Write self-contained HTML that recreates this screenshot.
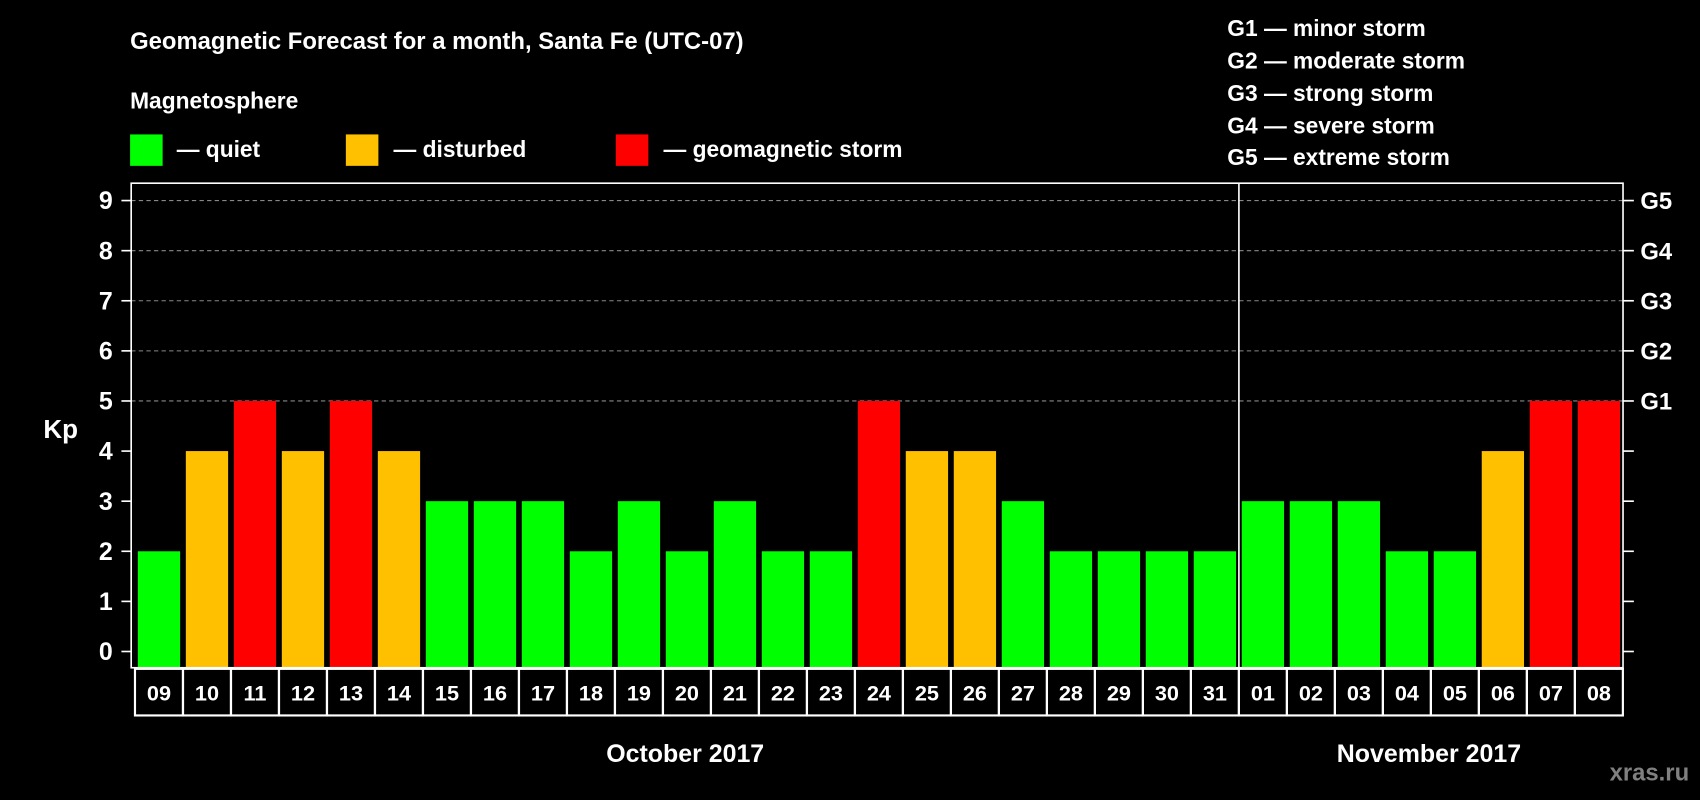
<!DOCTYPE html>
<html><head><meta charset="utf-8"><style>
html,body{margin:0;padding:0;background:#000;}
svg{display:block;font-family:"Liberation Sans",Arial,sans-serif;font-weight:bold;}
</style></head><body>
<svg id="chart" width="1700" height="800" viewBox="0 0 1568 738" preserveAspectRatio="none" xmlns="http://www.w3.org/2000/svg">
<rect width="1568" height="738" fill="#000"/>
<text x="120" y="45" fill="#fff" font-size="22">Geomagnetic Forecast for a month, Santa Fe (UTC-07)</text>
<text x="120" y="100" fill="#fff" font-size="21">Magnetosphere</text>
<g>
<rect x="120" y="124" width="30" height="29" fill="#00ff00"/>
<text x="163" y="145" fill="#fff" font-size="21">— quiet</text>
<rect x="319" y="124" width="30" height="29" fill="#ffc000"/>
<text x="363" y="145" fill="#fff" font-size="21">— disturbed</text>
<rect x="568" y="124" width="30" height="29" fill="#ff0000"/>
<text x="612" y="145" fill="#fff" font-size="21">— geomagnetic storm</text>
</g>
<g fill="#fff" font-size="21">
<text x="1132" y="33">G1 — minor storm</text>
<text x="1132" y="63">G2 — moderate storm</text>
<text x="1132" y="93">G3 — strong storm</text>
<text x="1132" y="123">G4 — severe storm</text>
<text x="1132" y="152">G5 — extreme storm</text>
</g>
<text x="40" y="404" fill="#fff" font-size="24">Kp</text>
<g id="grid"></g><g id="bars"></g><g id="axes"></g><g id="labels"></g>
<text x="632" y="703" fill="#fff" font-size="23" text-anchor="middle">October 2017</text>
<text x="1318" y="703" fill="#fff" font-size="23" text-anchor="middle">November 2017</text>
<text x="1558" y="720" fill="#808080" font-size="22" text-anchor="end">xras.ru</text>
</svg>
<script>
const days = ["09","10","11","12","13","14","15","16","17","18","19","20","21","22","23","24","25","26","27","28","29","30","31","01","02","03","04","05","06","07","08"];
const kp = [2,4,5,4,5,4,3,3,3,2,3,2,3,2,2,5,4,4,3,2,2,2,2,3,3,3,2,2,4,5,5];
const yTicks = [0,1,2,3,4,5,6,7,8,9];
const gLabels = ["G1","G2","G3","G4","G5"];
const gLevels = [5,6,7,8,9];
const NS="http://www.w3.org/2000/svg";
const L=121,R=1497,T=169,B=616,pitch=44.27,x0=124.5,bw=39;
function y(v){return 601-v*46.22;}
function xc(i){return x0+pitch*i+pitch/2;}
function mk(tag,attrs,parent){const e=document.createElementNS(NS,tag);for(const k in attrs)e.setAttribute(k,attrs[k]);parent.appendChild(e);return e;}
const grid=document.getElementById('grid'),bars=document.getElementById('bars'),axes=document.getElementById('axes'),labels=document.getElementById('labels');
gLevels.forEach((v,i)=>{
 const ln=mk('line',{x1:L,x2:R,y1:y(v),y2:y(v),stroke:'#888','stroke-dasharray':'4,3','stroke-width':1},grid);
 
 
 const t=mk('text',{x:1513,y:y(v)+8,fill:'#fff','font-size':22},axes);
 t.textContent=gLabels[i];
 
 
});
kp.forEach((v,i)=>{
 const c=v>=5?'#ff0000':(v>=4?'#ffc000':'#00ff00');
 const r=mk('rect',{x:xc(i)-bw/2,y:y(v),width:bw,height:B-y(v),fill:c},bars);
 
 
 const cell=mk('rect',{x:x0+pitch*i,y:617,width:pitch,height:43,fill:'none',stroke:'#fff','stroke-width':2},labels);
 
 
 const t=mk('text',{x:xc(i),y:646,fill:'#fff','font-size':20,'text-anchor':'middle'},labels);
 t.textContent=days[i];
 
 
});
yTicks.forEach(v=>{
 mk('line',{x1:112,x2:L,y1:y(v),y2:y(v),stroke:'#fff','stroke-width':1.5},axes);
 mk('line',{x1:R,x2:R+10,y1:y(v),y2:y(v),stroke:'#fff','stroke-width':1.5},axes);
 const t=mk('text',{x:104,y:y(v)+8,fill:'#fff','font-size':23,'text-anchor':'end'},axes);
 t.textContent=v;
 
 
});
const frame=mk('rect',{x:L,y:T,width:R-L,height:B-T,fill:'none',stroke:'#fff','stroke-width':1.5},axes);


const divIdx=days.indexOf("01");
const dv=mk('line',{x1:x0+pitch*divIdx,x2:x0+pitch*divIdx,y1:T,y2:B,stroke:'#fff','stroke-width':1.5},axes);


</script>
</body></html>
